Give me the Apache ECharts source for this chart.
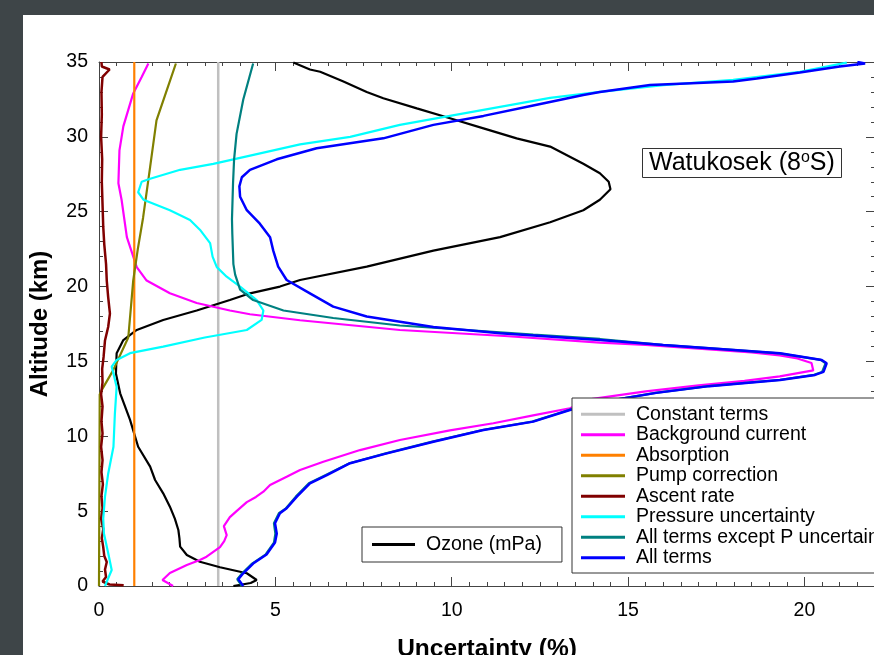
<!DOCTYPE html>
<html><head><meta charset="utf-8">
<script src="https://cdn.jsdelivr.net/npm/echarts@6/dist/echarts.min.js"></script>
<style>
html,body{margin:0;padding:0;width:874px;height:655px;overflow:hidden;background:#3e4548;}
#chart{position:absolute;left:23px;top:15px;width:900px;height:700px;background:#fff;}
</style></head><body><div id="chart"></div>
<script>
// ---- data: [uncertainty %, altitude km] ----
const xRange = [0, 22];
const yRange = [0, 35];
const xMajor = 5, xMinor = 0.5, yMajor = 5;

const constantTerms = [[3.38, 0], [3.38, 35]];
const absorption = [[1.0, 0], [1.0, 35]];

const backgroundCurrent = [[2.10,0],[1.80,0.4],[2.01,0.87],[2.49,1.4],[2.86,1.74],[3.05,1.96],[3.43,2.6],[3.55,3.0],[3.62,3.4],[3.54,4.0],[3.71,4.6],[3.90,5.0],[4.19,5.6],[4.45,5.95],[4.66,6.3],[4.85,6.75],[5.32,7.3],[5.70,7.75],[6.36,8.3],[7.40,9.08],[8.53,9.75],[9.95,10.4],[11.18,10.87],[12.31,11.4],[13.35,11.87],[14.0,12.5],[15.5,13.0],[17.0,13.4],[18.3,13.7],[19.3,14.0],[20.25,14.4],[20.2,14.9],[19.8,15.2],[19.3,15.4],[18.5,15.6],[17.0,15.85],[15.5,16.1],[14.2,16.25],[11.5,16.7],[8.53,17.1],[5.70,17.75],[4.28,18.15],[3.71,18.4],[2.77,18.9],[2.01,19.55],[1.35,20.4],[1.07,21.3],[0.79,23.3],[0.64,25.8],[0.55,26.9],[0.58,29.1],[0.69,30.7],[0.97,32.9],[1.21,34.0],[1.40,34.9]];

const pumpCorrection = [[0,0],[0.01,6],[0.02,12.8],[0.08,13.1],[0.4,14.4],[0.83,16.6],[0.93,19.3],[0.97,20.4],[1.1,22.5],[1.25,24.6],[1.45,28.0],[1.63,31.1],[1.92,33.1],[2.18,34.9]];

const ascentRate = [[0.7,0.05],[0.3,0.1],[0.1,0.3],[0.2,0.6],[0.17,1.1],[0.22,1.6],[0.15,2.0],[0.12,2.6],[0.08,3.2],[0.12,3.8],[0.06,4.5],[0.1,5.2],[0.07,6.0],[0.11,6.8],[0.07,7.6],[0.1,8.4],[0.06,9.3],[0.1,10.2],[0.07,11.0],[0.1,12.0],[0.06,12.8],[0.1,13.6],[0.09,14.5],[0.13,15.3],[0.17,16.4],[0.26,17.3],[0.31,18.2],[0.26,19.3],[0.22,20.4],[0.2,21.5],[0.15,22.8],[0.12,24.0],[0.1,25.5],[0.08,27.0],[0.09,28.5],[0.06,30.0],[0.08,31.5],[0.07,33.0],[0.1,34.0],[0.3,34.5],[0.08,34.7],[0.07,35]];

const pressureUncertainty = [[0.17,0],[0.24,0.4],[0.36,1.07],[0.26,2.2],[0.14,3.5],[0.12,4.5],[0.17,5.97],[0.26,7.5],[0.41,9.3],[0.45,11.5],[0.5,13.3],[0.41,14.2],[0.36,14.65],[0.5,15.1],[0.88,15.55],[1.82,15.99],[3.0,16.6],[4.19,17.1],[4.61,17.77],[4.66,18.4],[4.47,19.1],[4.0,20.0],[3.62,20.66],[3.34,21.3],[3.22,22.0],[3.15,22.9],[2.86,23.8],[2.58,24.45],[2.01,25.1],[1.26,25.8],[1.11,26.3],[1.21,27.0],[1.45,27.2],[2.30,27.8],[3.24,28.2],[4.19,28.7],[5.70,29.5],[7.12,30.0],[8.53,30.8],[9.95,31.4],[11.37,32.0],[12.79,32.6],[14.2,33.0],[16.0,33.45],[17.98,33.8],[19.87,34.35],[21.2,34.96]];

const allExceptP = [[4.05,0],[3.92,0.45],[4.06,0.85],[4.34,1.5],[4.72,2.1],[4.96,2.9],[5.0,3.5],[4.96,4.19],[5.1,4.86],[5.3,5.19],[5.58,5.97],[5.95,6.86],[6.43,7.41],[7.1,8.2],[8.13,8.86],[9.45,9.64],[10.87,10.42],[12.28,10.98],[13.32,11.76],[14.27,12.3],[15.77,12.9],[17.27,13.35],[18.47,13.6],[19.28,13.76],[20.27,14.1],[20.5,14.3],[20.6,14.88],[20.46,15.1],[19.28,15.54],[17.77,15.8],[15.97,16.1],[14.2,16.5],[12.31,16.8],[10.43,17.1],[8.53,17.4],[6.64,17.9],[5.23,18.4],[4.37,19.1],[4.0,19.8],[3.86,20.8],[3.81,21.5],[3.78,23.5],[3.77,24.5],[3.8,26.9],[3.83,28.5],[3.90,30.2],[4.09,32.5],[4.37,34.9]];

const allTerms = [[4.09,0],[3.95,0.45],[4.09,0.85],[4.37,1.5],[4.75,2.1],[4.99,2.9],[5.04,3.5],[4.99,4.19],[5.13,4.86],[5.32,5.19],[5.61,5.97],[5.98,6.86],[6.46,7.41],[7.12,8.2],[8.16,8.86],[9.48,9.64],[10.9,10.42],[12.31,10.98],[13.35,11.76],[14.3,12.3],[15.8,12.9],[17.3,13.35],[18.5,13.6],[19.31,13.76],[20.3,14.1],[20.54,14.3],[20.63,14.88],[20.49,15.1],[19.31,15.54],[17.8,15.8],[16.0,16.1],[14.2,16.43],[11.37,16.88],[9.48,17.3],[7.59,18.0],[6.64,18.66],[5.98,19.55],[5.32,20.44],[5.08,21.33],[4.94,22.4],[4.85,23.3],[4.56,24.2],[4.19,25.1],[4.0,26.0],[3.98,26.7],[4.05,27.3],[4.28,27.8],[5.04,28.5],[6.17,29.24],[8.06,29.9],[9.48,30.8],[10.9,31.4],[12.31,32.1],[13.73,32.8],[14.2,33.0],[15.62,33.47],[17.98,33.7],[18.65,33.9],[19.87,34.3],[21.0,34.7],[21.72,34.9],[21.5,35.0]];

const ozone = [[3.81,0.0],[4.3,0.2],[4.47,0.4],[4.19,0.85],[3.43,1.25],[2.86,1.62],[2.49,2.07],[2.30,2.63],[2.28,3.2],[2.25,3.74],[2.15,4.5],[2.01,5.3],[1.82,6.19],[1.59,7.08],[1.45,7.97],[1.11,9.3],[0.88,11.1],[0.6,12.87],[0.48,14.2],[0.5,15.55],[0.69,16.43],[1.07,17.1],[1.82,17.77],[2.77,18.4],[3.71,19.1],[4.28,19.55],[5.13,20.0],[5.70,20.44],[7.59,21.33],[9.48,22.4],[11.37,23.3],[12.79,24.3],[13.73,25.1],[14.2,25.8],[14.5,26.5],[14.45,27.0],[14.2,27.57],[13.73,28.2],[12.79,29.35],[11.84,29.9],[10.9,30.57],[9.95,31.24],[9.01,31.9],[8.06,32.58],[7.59,33.0],[6.93,33.7],[6.27,34.35],[5.98,34.5],[5.51,34.97]];

const legendNames = ['Constant terms','Background current','Absorption','Pump correction','Ascent rate','Pressure uncertainty','All terms except P uncertainty','All terms'];
const ozoneName = 'Ozone (mPa)';
const stationLabel = 'Watukosek (8{sup|o}S)';

// ---- chart ----
const FONT = 'Liberation Sans, Arial, sans-serif';
const AX = '#444';
function xAx(pos, interval, len, line, label) {
  return {
    type: 'value', position: pos, min: xRange[0], max: xRange[1], interval: interval,
    axisLine: {show: line, onZero: false, lineStyle: {color: AX, width: 1}},
    axisTick: {show: true, inside: true, length: len, lineStyle: {color: AX}},
    axisLabel: {show: label, fontSize: 19.5, color: '#000', margin: 15, showMaxLabel: false, fontFamily: FONT},
    splitLine: {show: false}
  };
}
function yAx(pos, label) {
  return {
    type: 'value', position: pos, min: yRange[0], max: yRange[1], interval: yMajor,
    axisLine: {show: true, onZero: false, lineStyle: {color: AX, width: 1}},
    axisTick: {show: true, inside: true, length: 9, lineStyle: {color: AX}},
    minorTick: {show: true, splitNumber: 5, length: 4, lineStyle: {color: AX}},
    axisLabel: {show: label, fontSize: 19.5, color: '#000', margin: 11, fontFamily: FONT},
    splitLine: {show: false}
  };
}
const xA0 = xAx('bottom', xMajor, 9, true, true);
Object.assign(xA0, {name: 'Uncertainty (%)', nameLocation: 'middle', nameGap: 51,
  nameTextStyle: {fontSize: 24.5, fontWeight: 'bold', color: '#000', fontFamily: FONT}});
const yA0 = yAx('left', true);
Object.assign(yA0, {name: 'Altitude (km)', nameLocation: 'middle', nameGap: 47,
  nameTextStyle: {fontSize: 24, fontWeight: 'bold', color: '#000', fontFamily: FONT}});

function ser(name, data, color, width) {
  return {name: name, type: 'line', data: data, xAxisIndex: 0, yAxisIndex: 0,
    symbol: 'none', showSymbol: false, smooth: false, animation: false,
    itemStyle: {color: color}, lineStyle: {color: color, width: width}};
}
const chart = echarts.init(document.getElementById('chart'), null, {renderer: 'canvas'});
chart.setOption({
  animation: false,
  textStyle: {fontFamily: FONT},
  grid: {left: 76, top: 47, width: 776, height: 524, containLabel: false, outerBoundsMode: 'none'},
  xAxis: [xA0, xAx('bottom', xMinor, 4, false, false), xAx('top', xMajor, 9, true, false), xAx('top', xMinor, 4, false, false)],
  yAxis: [yA0, yAx('right', false)],
  title: {
    text: stationLabel, left: 619, top: 133, padding: [2, 7, 2, 7],
    borderColor: '#333', borderWidth: 1,
    textStyle: {fontSize: 25, fontWeight: 'normal', color: '#000', lineHeight: 26, fontFamily: FONT,
      rich: {sup: {fontSize: 16, lineHeight: 8, verticalAlign: 'top', color: '#000', fontFamily: FONT}}}
  },
  legend: [{
    data: legendNames, orient: 'vertical', left: 549, top: 383, padding: [6, 10, 5, 9],
    itemWidth: 44, itemHeight: 3, itemGap: 0, icon: 'rect', selectedMode: false,
    borderColor: '#333', borderWidth: 1, backgroundColor: '#fff',
    textStyle: {fontSize: 19.5, lineHeight: 20.5, color: '#000', padding: [0, 0, 0, 6], fontFamily: FONT}
  }, {
    data: [ozoneName], orient: 'vertical', left: 339, top: 512, padding: [7.5, 20, 7.5, 10],
    itemWidth: 43, itemHeight: 3, icon: 'rect', selectedMode: false,
    borderColor: '#333', borderWidth: 1, backgroundColor: '#fff',
    textStyle: {fontSize: 19.5, lineHeight: 20, color: '#000', padding: [0, 0, 0, 6], fontFamily: FONT}
  }],
  series: [
    ser(legendNames[0], constantTerms, '#c0c0c0', 2.5),
    ser(ozoneName, ozone, '#000000', 2.2),
    ser(legendNames[1], backgroundCurrent, '#ff00ff', 2.2),
    ser(legendNames[2], absorption, '#ff8000', 2.2),
    ser(legendNames[3], pumpCorrection, '#808000', 2.2),
    ser(legendNames[4], ascentRate, '#800000', 2.5),
    ser(legendNames[5], pressureUncertainty, '#00ffff', 2.2),
    ser(legendNames[6], allExceptP, '#008080', 2.2),
    ser(legendNames[7], allTerms, '#0000ff', 2.5)
  ]
});
</script></body></html>
